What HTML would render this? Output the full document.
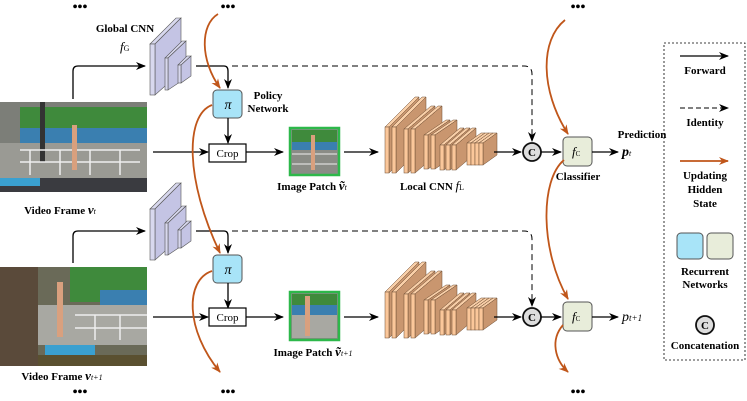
<!DOCTYPE html>
<html><head><meta charset="utf-8"><style>
html,body{margin:0;padding:0;background:#fff;}
svg{display:block;font-family:"Liberation Serif",serif;}
.b{font-weight:bold;font-size:11px;}
.m{font-style:italic;font-size:13px;}
</style></head><body>
<svg id="s" width="747" height="401" viewBox="0 0 747 401" xmlns="http://www.w3.org/2000/svg">
<defs>
<marker id="ak" markerWidth="10" markerHeight="8" refX="9" refY="4" orient="auto" markerUnits="userSpaceOnUse"><path d="M0,0 L10,4 L0,8 L3,4z" fill="#000"/></marker>
<marker id="ao" markerWidth="10" markerHeight="8" refX="9" refY="4" orient="auto" markerUnits="userSpaceOnUse"><path d="M0,0 L10,4 L0,8 L3,4z" fill="#c0561a"/></marker>
</defs>

<g font-size="14" font-weight="bold" text-anchor="middle">
<text x="80" y="11">•••</text><text x="228" y="11">•••</text><text x="578" y="11">•••</text>
<text x="80" y="396">•••</text><text x="228" y="396">•••</text><text x="578" y="396">•••</text>
</g>

<g>
<rect x="0" y="102" width="147" height="90" fill="#7c7e78"/>
<rect x="20" y="107" width="127" height="30" fill="#3f8a3c"/>
<rect x="20" y="128" width="127" height="15" fill="#3a7fb0"/>
<rect x="0" y="143" width="147" height="35" fill="#9a9a94"/>
<rect x="0" y="178" width="147" height="14" fill="#3a3b40"/>
<rect x="40" y="102" width="5" height="60" fill="#333"/>
<g stroke="#eee" stroke-width="1.5"><line x1="20" y1="150" x2="140" y2="150"/><line x1="20" y1="162" x2="140" y2="162"/><line x1="30" y1="150" x2="30" y2="175"/><line x1="60" y1="150" x2="60" y2="175"/><line x1="90" y1="150" x2="90" y2="175"/><line x1="120" y1="150" x2="120" y2="175"/></g>
<rect x="0" y="178" width="40" height="8" fill="#3aa0d0"/>
<rect x="72" y="125" width="5" height="45" fill="#d9a07e"/>

<rect x="0" y="267" width="147" height="99" fill="#6a6a58"/>
<rect x="0" y="267" width="38" height="99" fill="#5a4a3a"/>
<rect x="70" y="267" width="77" height="35" fill="#3f8a3c"/>
<rect x="100" y="290" width="47" height="18" fill="#3a7fb0"/>
<rect x="38" y="305" width="109" height="40" fill="#a8a8a2"/>
<rect x="45" y="345" width="50" height="10" fill="#3aa0d0"/>
<rect x="38" y="355" width="109" height="11" fill="#5a5030"/>
<g stroke="#eee" stroke-width="1.5"><line x1="75" y1="315" x2="147" y2="315"/><line x1="75" y1="328" x2="147" y2="328"/><line x1="95" y1="315" x2="95" y2="340"/><line x1="120" y1="315" x2="120" y2="340"/></g>
<rect x="57" y="282" width="6" height="55" fill="#d9a07e"/>
</g>
<text class="b" x="60" y="214" text-anchor="middle" font-size="11.5">Video Frame <tspan class="m" font-weight="bold">v</tspan><tspan font-size="8" font-style="italic" font-weight="normal">t</tspan></text>
<text class="b" x="62" y="380" text-anchor="middle" font-size="11.5">Video Frame <tspan class="m" font-weight="bold">v</tspan><tspan font-size="8" font-style="italic" font-weight="normal">t+1</tspan></text>

<path d="M73,99 V71 Q73,66 78,66 H145" fill="none" stroke="#000" stroke-width="1.3" marker-end="url(#ak)"/>
<path d="M73,263 V236 Q73,231 78,231 H145" fill="none" stroke="#000" stroke-width="1.3" marker-end="url(#ak)"/>

<g id="gc" stroke="#555" stroke-width="0.6">
<polygon points="150,44 176,18 181,18 155,44" fill="#d8d8ee"/>
<polygon points="155,44 181,18 181,72 155,95" fill="#c4c4e4"/>
<rect x="150" y="44" width="5" height="51" fill="#d8d8ee"/>
<polygon points="165,58 182,41 186,41 168,58" fill="#d8d8ee"/>
<polygon points="168,58 186,41 186,78 168,90" fill="#c4c4e4"/>
<rect x="165" y="58" width="3" height="32" fill="#d8d8ee"/>
<polygon points="178,65 187,56 191,56 181,65" fill="#d8d8ee"/>
<polygon points="181,65 191,56 191,76 181,83" fill="#c4c4e4"/>
<rect x="178" y="65" width="3" height="18" fill="#d8d8ee"/>
</g>
<use href="#gc" transform="translate(0,165)"/>
<text class="b" x="125" y="32" text-anchor="middle">Global CNN</text>
<text x="120" y="51" font-style="italic" font-size="13">f<tspan font-size="8" font-style="normal">G</tspan></text>

<path d="M196,66 H224 Q228,66 228,71 V88" fill="none" stroke="#000" stroke-width="1.3" marker-end="url(#ak)"/>
<path d="M196,231 H224 Q228,231 228,236 V253" fill="none" stroke="#000" stroke-width="1.3" marker-end="url(#ak)"/>
<path d="M232,66 H524 Q532,66 532,74 V141" fill="none" stroke="#000" stroke-width="1" stroke-dasharray="6,4" marker-end="url(#ak)"/>
<path d="M232,231 H524 Q532,231 532,239 V306" fill="none" stroke="#000" stroke-width="1" stroke-dasharray="6,4" marker-end="url(#ak)"/>

<rect x="213" y="90" width="29" height="28" rx="4" fill="#a8e4f8" stroke="#555"/>
<text x="228" y="109" text-anchor="middle" font-style="italic" font-size="14">π</text>
<rect x="213" y="255" width="29" height="28" rx="4" fill="#a8e4f8" stroke="#555"/>
<text x="228" y="274" text-anchor="middle" font-style="italic" font-size="14">π</text>
<text class="b" x="268" y="99" text-anchor="middle">Policy</text>
<text class="b" x="268" y="112" text-anchor="middle">Network</text>

<path d="M228,118 V143" stroke="#000" stroke-width="1.3" marker-end="url(#ak)"/>
<path d="M228,283 V308" stroke="#000" stroke-width="1.3" marker-end="url(#ak)"/>

<rect x="209" y="144" width="37" height="18" fill="#fff" stroke="#000" stroke-width="1.2"/>
<text x="227.5" y="157" text-anchor="middle" font-size="11">Crop</text>
<rect x="209" y="308" width="37" height="18" fill="#fff" stroke="#000" stroke-width="1.2"/>
<text x="227.5" y="321" text-anchor="middle" font-size="11">Crop</text>
<path d="M153,152 H208" stroke="#000" stroke-width="1.3" marker-end="url(#ak)"/>
<path d="M153,317 H208" stroke="#000" stroke-width="1.3" marker-end="url(#ak)"/>
<path d="M246,152 H283" stroke="#000" stroke-width="1.3" marker-end="url(#ak)"/>
<path d="M246,317 H283" stroke="#000" stroke-width="1.3" marker-end="url(#ak)"/>

<rect x="290" y="128" width="49" height="47" fill="#8a8c86" stroke="#2db84a" stroke-width="2.5"/>
<rect x="292" y="130" width="45" height="12" fill="#3f8a3c"/><rect x="292" y="142" width="45" height="8" fill="#3a7fb0"/>
<g stroke="#eee"><line x1="292" y1="154" x2="337" y2="154"/><line x1="292" y1="164" x2="337" y2="164"/></g>
<rect x="311" y="135" width="4" height="35" fill="#d9a07e"/>
<rect x="290" y="292" width="49" height="48" fill="#8a8a84" stroke="#2db84a" stroke-width="2.5"/>
<rect x="292" y="294" width="45" height="18" fill="#3f8a3c"/><rect x="292" y="305" width="45" height="10" fill="#3a7fb0"/>
<rect x="292" y="315" width="45" height="23" fill="#a8a8a2"/>
<rect x="305" y="296" width="5" height="40" fill="#d9a07e"/>
<text class="b" x="312" y="190" text-anchor="middle" font-size="11.5">Image Patch <tspan class="m" font-weight="bold">ṽ</tspan><tspan font-size="8" font-style="italic" font-weight="normal">t</tspan></text>
<text class="b" x="313" y="356" text-anchor="middle" font-size="11.5">Image Patch <tspan class="m" font-weight="bold">ṽ</tspan><tspan font-size="8" font-style="italic" font-weight="normal">t+1</tspan></text>

<path d="M344,152 H378" stroke="#000" stroke-width="1.3" marker-end="url(#ak)"/>
<path d="M344,317 H378" stroke="#000" stroke-width="1.3" marker-end="url(#ak)"/>

<g id="lc" stroke="#6a4a30" stroke-width="0.5"></g>
<use href="#lc" transform="translate(0,165)"/>
<text class="b" x="432" y="190" text-anchor="middle" font-size="11.5">Local CNN <tspan font-style="italic" font-weight="normal" font-size="13">f</tspan><tspan font-size="8" font-weight="normal">L</tspan></text>

<path d="M494,152 H521" stroke="#000" stroke-width="1.3" marker-end="url(#ak)"/>
<path d="M494,317 H521" stroke="#000" stroke-width="1.3" marker-end="url(#ak)"/>

<g stroke="#111" stroke-width="1.8" fill="#ddd">
<circle cx="532" cy="152" r="9"/><circle cx="532" cy="317" r="9"/><circle cx="705" cy="325" r="9"/>
</g>
<g font-weight="bold" font-size="11" text-anchor="middle">
<text x="532" y="156">C</text><text x="532" y="321">C</text><text x="705" y="329">C</text></g>
<path d="M541,152 H561" stroke="#000" stroke-width="1.3" marker-end="url(#ak)"/>
<path d="M541,317 H561" stroke="#000" stroke-width="1.3" marker-end="url(#ak)"/>

<rect x="563" y="137" width="29" height="29" rx="4" fill="#e8edda" stroke="#555"/>
<text x="572" y="156" font-style="italic" font-size="13">f<tspan font-size="7" font-style="normal">C</tspan></text>
<rect x="563" y="302" width="29" height="29" rx="4" fill="#e8edda" stroke="#555"/>
<text x="572" y="321" font-style="italic" font-size="13">f<tspan font-size="7" font-style="normal">C</tspan></text>
<path d="M592,152 H618" stroke="#000" stroke-width="1.3" marker-end="url(#ak)"/>
<path d="M592,317 H618" stroke="#000" stroke-width="1.3" marker-end="url(#ak)"/>
<text class="b" x="642" y="138" text-anchor="middle">Prediction</text>
<text x="622" y="156" font-style="italic" font-weight="bold" font-size="14">p<tspan font-size="8" font-weight="normal">t</tspan></text>
<text x="622" y="321" font-style="italic" font-size="14">p<tspan font-size="9">t+1</tspan></text>
<text class="b" x="578" y="180" text-anchor="middle">Classifier</text>

<g fill="none" stroke="#c0561a" stroke-width="1.8">
<path d="M218,14 C200,25 200,60 220,88" marker-end="url(#ao)"/>
<path d="M212,105 C185,115 185,180 220,253" marker-end="url(#ao)"/>
<path d="M212,271 C185,280 185,330 220,372" marker-end="url(#ao)"/>
<path d="M565,20 C540,40 540,90 568,134" marker-end="url(#ao)"/>
<path d="M564,160 C540,180 540,250 568,299" marker-end="url(#ao)"/>
<path d="M563,325 C550,340 555,360 568,372" marker-end="url(#ao)"/>
</g>

<rect x="664" y="43" width="81" height="317" fill="none" stroke="#000" stroke-width="0.8" stroke-dasharray="2,2"/>
<path d="M680,56 H728" stroke="#000" stroke-width="1.3" marker-end="url(#ak)"/>
<text class="b" x="705" y="74" text-anchor="middle">Forward</text>
<path d="M680,108 H728" stroke="#000" stroke-width="1" stroke-dasharray="5,3" marker-end="url(#ak)"/>
<text class="b" x="705" y="126" text-anchor="middle">Identity</text>
<path d="M680,161 H728" stroke="#c0561a" stroke-width="1.8" marker-end="url(#ao)"/>
<text class="b" x="705" y="179" text-anchor="middle">Updating</text>
<text class="b" x="705" y="193" text-anchor="middle">Hidden</text>
<text class="b" x="705" y="207" text-anchor="middle">State</text>
<rect x="677" y="233" width="26" height="26" rx="4" fill="#a8e4f8" stroke="#555"/>
<rect x="707" y="233" width="26" height="26" rx="4" fill="#e8edda" stroke="#555"/>
<text class="b" x="705" y="275" text-anchor="middle">Recurrent</text>
<text class="b" x="705" y="288" text-anchor="middle">Networks</text>
<text class="b" x="705" y="349" text-anchor="middle">Concatenation</text>
</svg>
<script>
(function(){
var g=document.getElementById('lc'),h='';
var groups=[[385,2,7,46,127,30,30],[404,2,7,44,129,27,23],[424,2,7,34,135,22,15],[440,3,6,25,145,20,17],[467,4,4,22,143,14,10]];
groups.forEach(function(q){
 for(var i=0;i<q[1];i++){
  var x=q[0]+i*q[2],H=q[3],y=q[4],dx=q[5],dy=q[6],w=4;
  h+='<polygon points="'+x+','+y+' '+(x+dx)+','+(y-dy)+' '+(x+dx+w)+','+(y-dy)+' '+(x+w)+','+y+'" fill="#f9cfa8"/>';
  h+='<polygon points="'+(x+w)+','+y+' '+(x+w+dx)+','+(y-dy)+' '+(x+w+dx)+','+(y-dy+H)+' '+(x+w)+','+(y+H)+'" fill="#c9966f"/>';
  h+='<rect x="'+x+'" y="'+y+'" width="'+w+'" height="'+H+'" fill="#fbc79a"/>';
 }
});
g.innerHTML=h;
})();
</script>
</body></html>
